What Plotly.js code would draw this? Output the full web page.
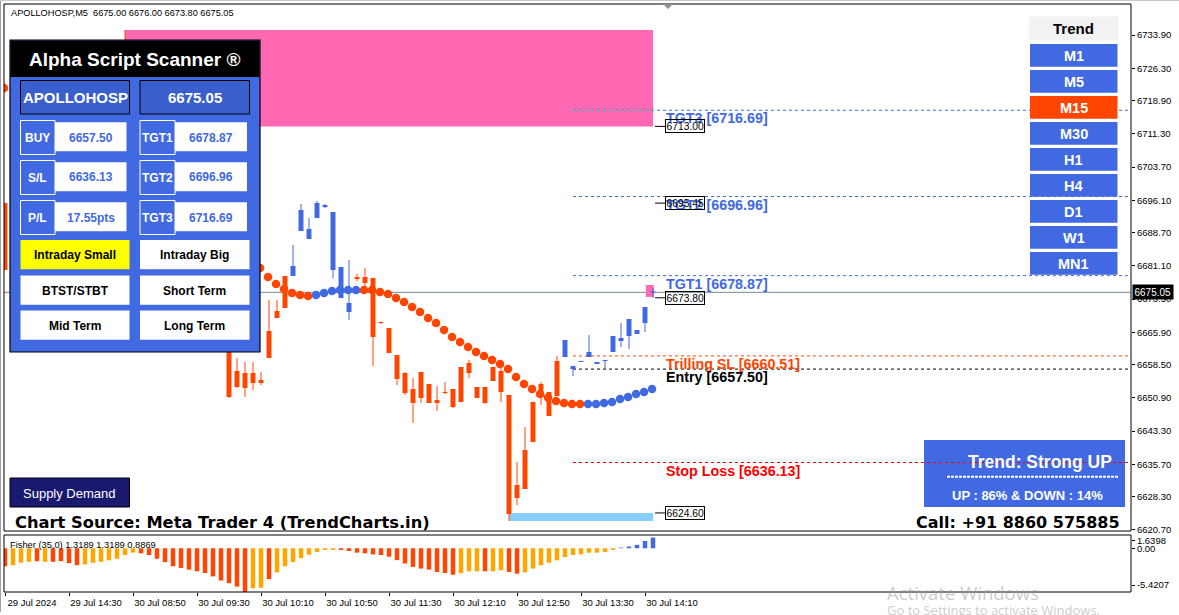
<!DOCTYPE html>
<html><head><meta charset="utf-8">
<script src="https://cdn.plot.ly/plotly-3.0.1.min.js"></script>
<style>html,body{margin:0;padding:0;background:#fff;overflow:hidden}#chart{width:1179px;height:615px}</style>
</head><body><div id="chart"></div>
<script>
// ---------------- DATA ----------------
const xTickBars = [0,8,16,24,32,40,48,56,64,72,80];
const xTickLabels = ["29 Jul 2024","29 Jul 14:30","30 Jul 08:50","30 Jul 09:30","30 Jul 10:10","30 Jul 10:50","30 Jul 11:30","30 Jul 12:10","30 Jul 12:50","30 Jul 13:30","30 Jul 14:10"];
const priceTicks = [6733.90,6726.30,6718.90,6711.30,6703.70,6696.10,6688.70,6681.10,6673.50,6665.90,6658.50,6650.90,6643.30,6635.70,6628.30,6620.70];

// visible candles (bar index, OHLC, trend colour state: 1 up / -1 down)
const barIdx = [0,15,28,29,30,31,32,33,34,35,36,37,38,39,40,41,42,43,44,45,46,47,48,49,50,51,52,53,54,55,56,57,58,59,60,61,62,63,64,65,66,67,68,69,70,71,72,73,74,75,76,77,78,79,80,81];
const openP  = [6695.48,6727.00,6662.50,6657.06,6656.60,6656.60,6655.00,6660.03,6669.18,6671.47,6678.79,6689.08,6689.53,6692.05,6695.02,6693.42,6680.84,6672.61,6678.10,6677.19,6678.33,6668.04,6666.89,6660.72,6656.60,6652.94,6650.89,6654.09,6650.43,6652.03,6648.83,6649.97,6658.89,6653.40,6649.74,6654.77,6657.06,6651.57,6628.02,6630.08,6640.82,6651.12,6652.26,6651.34,6660.26,6658.20,6659.12,6660.26,6658.66,6659.35,6661.41,6663.92,6665.07,6666.44,6668.04,6675.00];
const highP  = [6695.48,6735.04,6663.00,6660.03,6659.12,6659.12,6656.83,6673.30,6673.30,6678.79,6685.88,6695.25,6692.05,6695.94,6695.25,6693.42,6680.84,6682.45,6679.24,6680.62,6678.33,6668.27,6666.89,6660.72,6656.83,6655.46,6656.83,6654.09,6653.63,6654.55,6652.94,6657.98,6659.58,6653.40,6653.40,6657.98,6657.98,6651.57,6636.25,6644.25,6649.97,6654.55,6652.26,6660.49,6664.15,6658.20,6659.12,6665.29,6659.12,6659.35,6665.07,6668.04,6668.95,6666.44,6671.70,6676.00];
const lowP   = [6680.16,6719.00,6650.89,6653.17,6651.12,6652.72,6653.86,6660.03,6669.18,6671.47,6678.79,6689.08,6687.25,6692.05,6694.34,6678.33,6673.76,6668.72,6677.64,6676.27,6658.20,6667.81,6661.18,6653.86,6651.57,6645.17,6649.74,6649.74,6647.91,6651.80,6648.60,6649.97,6655.46,6650.89,6649.51,6654.77,6649.97,6622.76,6626.42,6630.08,6640.82,6649.29,6646.77,6651.34,6660.26,6655.92,6659.12,6660.26,6658.66,6657.29,6661.41,6662.55,6662.09,6665.52,6665.98,6673.80];
const closeP = [6680.16,6721.00,6651.12,6653.40,6653.17,6654.32,6654.32,6666.21,6670.78,6678.79,6681.07,6693.88,6687.25,6695.48,6694.57,6680.16,6673.76,6670.55,6678.56,6678.56,6664.84,6668.04,6661.18,6655.23,6652.03,6649.74,6656.83,6649.74,6649.74,6652.03,6652.94,6657.98,6656.60,6650.89,6653.40,6657.98,6652.26,6624.36,6630.99,6639.00,6649.97,6654.09,6646.77,6659.35,6664.15,6657.52,6659.12,6661.41,6659.12,6659.35,6665.07,6664.61,6668.95,6665.52,6671.70,6675.05];
const barTrend = [-1,-1,-1,-1,-1,-1,-1,-1,-1,-1,1,1,1,1,1,1,1,1,-1,-1,-1,-1,-1,-1,-1,-1,-1,-1,-1,-1,-1,-1,-1,-1,-1,-1,-1,-1,-1,-1,-1,-1,-1,-1,1,1,1,1,1,1,1,1,1,1,1,1];

// trend-stop dots
const dotIdx = [0,32,33,34,35,36,37,38,39,40,41,42,43,44,45,46,47,48,49,50,51,52,53,54,55,56,57,58,59,60,61,62,63,64,65,66,67,68,69,70,71,72,73,74,75,76,77,78,79,80,81];
const dotPrice = [6721.78,6680.62,6678.56,6676.96,6675.81,6674.90,6674.44,6674.21,6674.44,6674.90,6675.36,6675.58,6675.58,6675.58,6675.58,6675.58,6675.13,6674.67,6673.76,6672.84,6671.70,6670.55,6669.18,6668.04,6666.44,6664.84,6663.69,6662.55,6661.41,6660.49,6659.58,6658.66,6657.52,6655.69,6654.09,6652.94,6651.80,6651.00,6650.20,6649.74,6649.51,6649.51,6649.51,6649.51,6649.74,6649.97,6650.66,6651.12,6651.80,6652.26,6652.94];
const dotTrend = [-1,-1,-1,-1,-1,-1,-1,-1,1,1,1,1,1,1,-1,-1,-1,-1,-1,-1,-1,-1,-1,-1,-1,-1,-1,-1,-1,-1,-1,-1,-1,-1,-1,-1,-1,-1,-1,-1,-1,-1,1,1,1,1,1,1,1,1,1];

// Fisher (35,0) histogram, one value per bar 0..81, and its buffer (0 falling, 1 rising, 2 positive)
const fisherVal = [-2.23,-2.10,-1.80,-1.68,-1.60,-1.68,-1.68,-1.60,-1.85,-2.10,
  -2.00,-1.80,-1.68,-1.50,-1.30,-0.84,-0.55,-0.63,-0.84,-1.30,
  -1.72,-2.23,-2.44,-2.65,-2.86,-3.07,-3.49,-4.00,-4.33,-4.75,
  -5.42,-4.96,-4.90,-3.83,-2.99,-2.23,-1.72,-1.22,-0.80,-0.46,
  -0.21,-0.21,-0.21,-0.34,-0.55,-0.63,-0.76,-0.84,-1.05,-1.47,
  -1.89,-2.31,-2.52,-2.65,-2.94,-3.07,-3.28,-3.07,-2.86,-2.86,
  -2.86,-2.86,-2.73,-2.94,-3.15,-2.99,-2.52,-2.10,-1.80,-1.50,
  -1.09,-0.84,-0.76,-0.55,-0.55,-0.46,-0.21,0.08,0.21,0.42,
  0.89,1.32];
const fisherBuf = [0,1,1,1,0,1,0,0,0,0, 1,1,1,1,1,1,1,0,0,0, 0,0,0,0,0,0,0,0,0,0, 0,1,1,0,1,1,1,1,1,1, 1,1,0,0,0,0,0,0,0,0, 0,0,0,0,0,0,0,1,1,1, 0,1,1,0,0,1,1,1,1,1, 1,1,1,1,1,1,1,2,2,2, 2,2];
const fisherMin = -5.4207, fisherMax = 1.6398;

// trade levels
const levelNames  = ['TGT3','TGT2','TGT1','Trilling SL','Entry','Stop Loss'];
const levelPrices = [6716.69,6696.96,6678.87,6660.51,6657.50,6636.13];
const levelStartBar = 71;
const priceLabels = [6713.00,6695.45,6673.80,6624.60];
const lastBar = 81;
const bidPrice = 6675.05;
// zones [startBar, endBar, top, bottom]
const zoneStart  = [15, 63, 80.1];
const zoneEnd    = [81, 81, 81.1];
const zoneTop    = [6735.04, 6624.60, 6676.73];
const zoneBottom = [6713.00, 6622.76, 6674.00];

const headerText = 'APOLLOHOSP,M5\u00a0\u00a06675.00 6676.00 6673.80 6675.05';
const fisherTitle = 'Fisher (35,0) 1.3189 1.3189 0.8869';
const symbol = 'APOLLOHOSP', lastPriceTxt = '6675.05';
const leftRows  = [['BUY','6657.50'],['S/L','6636.13'],['P/L','17.55pts']];
const rightRows = [['TGT1','6678.87'],['TGT2','6696.96'],['TGT3','6716.69']];
const buttonRows = [['Intraday Small','Intraday Big'],['BTST/STBT','Short Term'],['Mid Term','Long Term']];
const timeframes = ['M1','M5','M15','M30','H1','H4','D1','W1','MN1'];
const activeTF = 'M15';
const trendText = 'Trend: Strong UP', trendPct = 'UP : 86% & DOWN : 14%';

// ---------------- STYLE / BUILD ----------------
const BLUE='#4169E1', RED='#FF4500', ORANGE='#FFA500';
const FONT='Liberation Sans, Arial, sans-serif';
const PL=4, PR=1131, PT=4, PB=592;
const px = v => (v-PL)/(PR-PL);
const py = v => (PB-v)/(PB-PT);
const shapes=[], ann=[];
function box(x0,y0,x1,y1,fill,lc,lw){shapes.push({type:'rect',xref:'paper',yref:'paper',x0:px(x0),x1:px(x1),y0:py(y1),y1:py(y0),fillcolor:fill||'rgba(0,0,0,0)',line:{color:lc||'rgba(0,0,0,0)',width:lw||0},layer:'above'});}
function pline(x0,y0,x1,y1,color,w,dash){shapes.push({type:'line',xref:'paper',yref:'paper',x0:px(x0),x1:px(x1),y0:py(y0),y1:py(y1),line:{color,width:w||1,dash:dash||'solid'},layer:'above'});}
function txt(x,y,text,size,color,xa,family){ann.push({xref:'paper',yref:'paper',x:px(x),y:py(y),text,showarrow:false,xanchor:xa||'center',yanchor:'middle',borderpad:0,font:{family:family||FONT,size,color}});}

// traces
const traces=[];
// Fisher
const fColors = fisherBuf.map(b=>b===2?BLUE:(b===1?ORANGE:RED));
traces.push({type:'bar',x:fisherVal.map((v,i)=>i),y:fisherVal,width:0.56,marker:{color:fColors,line:{width:0}},xaxis:'x',yaxis:'y2',hoverinfo:'skip'});
// candles
[[1,BLUE],[-1,RED]].forEach(([s,c])=>{
  const wx=[],wy=[],bx=[],bb=[],bh=[];
  barIdx.forEach((b,k)=>{ if(barTrend[k]!==s) return;
    const lo=Math.min(openP[k],closeP[k]), hi=Math.max(openP[k],closeP[k]);
    wx.push(b,b,null); wy.push(lowP[k],highP[k],null);
    bx.push(b); bb.push(lo); bh.push(Math.max(hi-lo,0.25));
  });
  traces.push({type:'scatter',mode:'lines',x:wx,y:wy,line:{color:c,width:1},connectgaps:false,xaxis:'x',yaxis:'y',hoverinfo:'skip'});
  traces.push({type:'bar',x:bx,base:bb,y:bh,width:0.62,marker:{color:c,line:{width:0}},xaxis:'x',yaxis:'y',hoverinfo:'skip'});
});
// dots
[[-1,RED],[1,BLUE]].forEach(([s,c])=>{
  const x=[],y=[];
  dotIdx.forEach((b,k)=>{ if(dotTrend[k]===s){x.push(b-0.12);y.push(dotPrice[k]);} });
  traces.push({type:'scatter',mode:'markers',x,y,marker:{color:c,size:8.5,line:{width:0}},xaxis:'x',yaxis:'y',hoverinfo:'skip'});
});

// zones (below candles)
const zoneColors=['#FF69B4','#87CEFA','#FF69B4'];
zoneStart.forEach((s,i)=>shapes.push({type:'rect',xref:'x',yref:'y',x0:s,x1:zoneEnd[i],y0:zoneBottom[i],y1:zoneTop[i],fillcolor:zoneColors[i],line:{width:0},layer:'below'}));
// bid line
shapes.push({type:'line',xref:'paper',yref:'y',x0:0,x1:1,y0:bidPrice,y1:bidPrice,line:{color:'#778899',width:1},layer:'below'});
// levels
const levelColors=[BLUE,BLUE,BLUE,RED,'#000000','#FF0000'];
const textColors=[BLUE,BLUE,BLUE,RED,'#000000','#FF0000'];
levelPrices.forEach((p,i)=>{
  shapes.push({type:'line',xref:'x',yref:'y',x0:levelStartBar,x1:141,y0:p,y1:p,line:{color:levelColors[i],width:1,dash:'3px,3px'},layer:i===5?'above':'below'});
});
// TGT3 segment over the pink zone (blended colour)
shapes.push({type:'line',xref:'x',yref:'y',x0:levelStartBar,x1:zoneEnd[0],y0:levelPrices[0],y1:levelPrices[0],line:{color:'#2FD6A8',width:1,dash:'3px,3px'},layer:'below'});
levelPrices.forEach((p,i)=>{
  ann.push({xref:'x',yref:'y',x:82.55,y:p,text:'<b>'+levelNames[i]+' ['+p.toFixed(2)+']</b>',showarrow:false,xanchor:'left',yanchor:'top',yshift:1,borderpad:0,font:{family:FONT,size:14.3,color:textColors[i]}});
});
// left price labels
priceLabels.forEach(p=>{
  shapes.push({type:'line',xref:'x',yref:'y',x0:lastBar+0.25,x1:82.5,y0:p,y1:p,line:{color:'#000',width:1},layer:'above'});
  ann.push({xref:'x',yref:'y',x:82.5,y:p,text:p.toFixed(2),showarrow:false,xanchor:'left',yanchor:'middle',bordercolor:'#000',borderwidth:1,borderpad:0.5,font:{family:FONT,size:10.3,color:'#000'}});
});

// frames
box(4,4,1131,531,null,'#000',1);
box(4,535,1131,592,null,'#000',1);
pline(0.5,0,0.5,612,'#A0A0A0',1); pline(0,0.5,1179,0.5,'#C8C8C8',1);
// chart-shift marker
shapes.push({type:'path',xref:'paper',yref:'paper',path:`M ${px(663)} ${py(4)} L ${px(673)} ${py(4)} L ${px(668)} ${py(9)} Z`,fillcolor:'#909090',line:{width:0},layer:'above'});

// Scanner panel
box(10,40,260,352,BLUE,'#000',1.2);
box(10.5,40.5,259.5,77,'#000');
txt(134.5,59,'<b>Alpha Script Scanner ®</b>',19,'#fff');
box(20.5,80.5,129.5,114,'#3A5FCD','#000',1); txt(75,97.5,'<b>'+symbol+'</b>',15,'#fff');
box(140,80.5,249.5,114,'#3A5FCD','#000',1); txt(194.8,97.5,'<b>'+lastPriceTxt+'</b>',15,'#fff');
const rowY=[120.5,160.5,200.5];
rowY.forEach((y0,r)=>{
  const y1=y0+34;
  box(20.5,y0,55,y1,BLUE,'#fff',1); box(55,y0+1.7,126.5,y1-3.3,'#fff');
  box(140,y0,175,y1,BLUE,'#fff',1); box(175,y0+1.7,247,y1-3.3,'#fff');
  txt(37.8,y0+17.5,'<b>'+leftRows[r][0]+'</b>',12,'#fff');
  txt(90.8,y0+17,'<b>'+leftRows[r][1]+'</b>',12,BLUE);
  txt(157.5,y0+17.5,'<b>'+rightRows[r][0]+'</b>',12,'#fff');
  txt(211,y0+17,'<b>'+rightRows[r][1]+'</b>',12,BLUE);
});
const btnY=[240,275.5,310.5];
btnY.forEach((y0,r)=>{
  const y1=y0+29.3;
  box(20.5,y0,129.5,y1,r===0?'#FFFF00':'#fff'); box(140,y0,249.5,y1,'#fff');
  txt(75,y0+15,'<b>'+buttonRows[r][0]+'</b>',12,'#000');
  txt(194.8,y0+15,'<b>'+buttonRows[r][1]+'</b>',12,'#000');
});

// Trend panel
box(1029,16.5,1118.5,40.5,'#F2F2F2'); txt(1073.5,29,'<b>Trend</b>',15,'#000');
timeframes.forEach((tf,i)=>{
  const y0=44+26*i;
  box(1030,y0,1117.5,y0+22.7,tf===activeTF?RED:BLUE);
  txt(1073.8,y0+11.8,'<b>'+tf+'</b>',14.5,'#fff');
});

// Trend box
box(924,440,1125,507,BLUE);
pline(947,476.7,1118,476.7,'#fff',2,'3px,1px');
txt(1040,462,'<b>'+trendText+'</b>',17.5,'#fff');
txt(1027,495,'<b>'+trendPct+'</b>',13,'#fff');
// SL line above trend box
shapes.push({type:'line',xref:'x',yref:'y',x0:levelStartBar,x1:141,y0:levelPrices[5],y1:levelPrices[5],line:{color:'#FF0000',width:1,dash:'3px,3px'},layer:'above'});

// Supply demand button
box(10,478,129.5,507,'#191970','#000',1);
txt(69.8,493,'Supply Demand',13,'#fff');

// Texts
txt(10,12.5,headerText,9.2,'#000','left');
txt(9,544.5,fisherTitle,9.3,'#000','left');
txt(14,522,'<b>Chart Source: Meta Trader 4 (TrendCharts.in)</b>',16.3,'#000','left','DejaVu Sans, sans-serif');
txt(1121,522,'<b>Call: +91 8860 575885</b>',16,'#000','right','DejaVu Sans, sans-serif');
txt(886,592,'Activate Windows',18.5,'rgba(160,160,160,0.55)','left','Open Sans, sans-serif');
txt(886,610,'Go to Settings to activate Windows.',13,'rgba(160,160,160,0.55)','left','Open Sans, sans-serif');
// bid tag on the price scale
ann.push({xref:'paper',yref:'y',x:1,y:bidPrice,xshift:1,text:bidPrice.toFixed(2),showarrow:false,xanchor:'left',yanchor:'middle',bgcolor:'#000',borderpad:1.5,font:{family:FONT,size:10,color:'#fff'}});

const axFont={family:FONT,size:9.5,color:'#000'};
const layout={
  width:1179,height:615,margin:{l:PL,r:1179-PR,t:PT,b:615-PB,pad:0},
  paper_bgcolor:'#fff',plot_bgcolor:'#fff',showlegend:false,barmode:'overlay',hovermode:false,
  xaxis:{range:[-0.125,140.75],anchor:'y2',tickvals:xTickBars,ticktext:xTickLabels,ticks:'outside',ticklen:3,tickcolor:'#000',tickwidth:1,ticklabelshift:27,ticklabelstandoff:-1,showgrid:false,zeroline:false,showline:false,tickfont:axFont,fixedrange:true},
  yaxis:{domain:[(PB-531)/(PB-PT),1],range:[6620.47,6740.99],side:'right',anchor:'x',tickvals:priceTicks,ticktext:priceTicks.map(v=>v.toFixed(2)),ticks:'outside',ticklen:3,tickcolor:'#000',showgrid:false,zeroline:false,showline:false,tickfont:axFont,fixedrange:true},
  yaxis2:{domain:[0,(PB-535)/(PB-PT)],range:[fisherMin,fisherMax],side:'right',anchor:'x',tickvals:[0.9,0,-4.56],ticktext:[fisherMax.toFixed(4),'0.00',fisherMin.toFixed(4)],ticks:'outside',ticklen:3,tickcolor:'#000',showgrid:false,zeroline:false,showline:false,tickfont:axFont,fixedrange:true},
  shapes,annotations:ann
};
Plotly.newPlot('chart',traces,layout,{staticPlot:true,displayModeBar:false});
</script></body></html>
